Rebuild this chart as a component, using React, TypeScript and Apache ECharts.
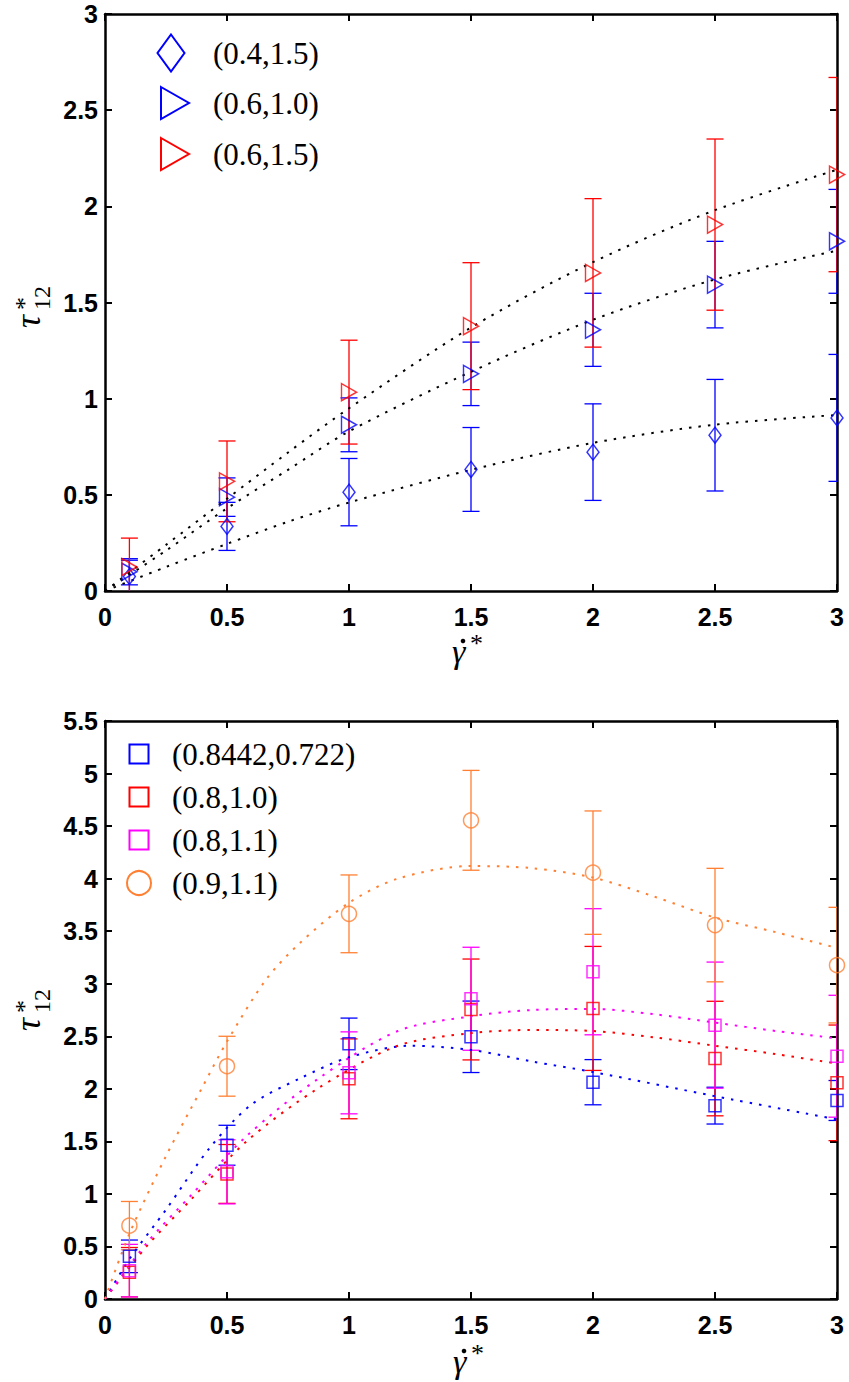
import React, { useEffect, useRef } from "react";
import * as echarts from "echarts";

// ---------- data ----------
const shearRates = [0.1, 0.5, 1, 1.5, 2, 2.5, 3];

// top panel
const topNames = ["(0.4,1.5)", "(0.6,1.0)", "(0.6,1.5)"];
const topMeanA = [0.075, 0.336, 0.514, 0.632, 0.722, 0.81, 0.9];
const topErrA = [0.085, 0.125, 0.175, 0.218, 0.251, 0.29, 0.33];
const topMeanB = [0.1, 0.488, 0.864, 1.129, 1.358, 1.593, 1.818];
const topErrB = [0.068, 0.1, 0.14, 0.165, 0.19, 0.225, 0.27];
const topMeanC = [0.125, 0.57, 1.034, 1.377, 1.654, 1.905, 2.165];
const topErrC = [0.15, 0.21, 0.27, 0.33, 0.386, 0.445, 0.505];

const topFitA = [[0, 0], [0.25, 0.125], [0.5, 0.245], [0.75, 0.36], [1, 0.46], [1.5, 0.63], [2, 0.77], [2.5, 0.865], [3, 0.915]];
const topFitB = [[0, 0], [0.25, 0.21], [0.5, 0.43], [0.75, 0.63], [1, 0.83], [1.5, 1.14], [2, 1.41], [2.5, 1.62], [3, 1.77]];
const topFitC = [[0, 0], [0.25, 0.24], [0.5, 0.48], [0.75, 0.72], [1, 0.95], [1.5, 1.37], [2, 1.71], [2.5, 1.98], [3, 2.19]];

// bottom panel
const botNames = ["(0.8442,0.722)", "(0.8,1.0)", "(0.8,1.1)", "(0.9,1.1)"];
const botMeanBlue = [0.406, 1.463, 2.428, 2.495, 2.063, 1.84, 1.889];
const botErrBlue = [0.155, 0.19, 0.245, 0.34, 0.215, 0.175, 0.19];
const botMeanRed = [0.255, 1.19, 2.095, 2.755, 2.765, 2.288, 2.057];
const botErrRed = [0.235, 0.28, 0.38, 0.48, 0.59, 0.545, 0.55];
const botMeanMag = [0.27, 1.21, 2.152, 2.857, 3.114, 2.606, 2.31];
const botErrMag = [0.25, 0.305, 0.39, 0.49, 0.6, 0.6, 0.58];
const botMeanOr = [0.698, 2.215, 3.665, 4.555, 4.057, 3.558, 3.177];
const botErrOr = [0.23, 0.285, 0.37, 0.475, 0.587, 0.54, 0.55];

const fitBlue = [[0, 0], [0.1, 0.38], [0.25, 0.85], [0.43, 1.44], [0.6, 1.85], [0.8, 2.1], [1, 2.3], [1.25, 2.41], [1.5, 2.37], [1.75, 2.26], [2, 2.16], [2.5, 1.93], [3, 1.71]];
const fitRed = [[0, 0], [0.17, 0.5], [0.35, 0.94], [0.58, 1.5], [0.87, 2.0], [1.2, 2.41], [1.5, 2.53], [1.75, 2.56], [2, 2.55], [2.25, 2.49], [2.5, 2.41], [2.75, 2.33], [3, 2.24]];
const fitMag = [[0, 0], [0.17, 0.53], [0.35, 0.98], [0.58, 1.55], [0.87, 2.09], [1.2, 2.55], [1.5, 2.69], [1.75, 2.75], [2, 2.76], [2.25, 2.71], [2.5, 2.63], [2.75, 2.55], [3, 2.48]];
const fitOr = [[0, 0], [0.1, 0.62], [0.25, 1.36], [0.4, 2.02], [0.5, 2.45], [0.66, 3.04], [0.8, 3.39], [1, 3.77], [1.2, 4.0], [1.5, 4.12], [1.75, 4.1], [2, 4.01], [2.25, 3.83], [2.5, 3.63], [2.75, 3.49], [3, 3.34]];

// ---------- styles ----------
const BLUE = "#0000ff";
const RED = "#ff0000";
const MAG = "#ff00ff";
const ORANGE = "#ff8033";
const TRI = "path://M0,0L10,5.5L0,11Z";

const errRows = (means: number[], errs: number[]) =>
  shearRates.map((x, i) => [x, means[i] - errs[i], means[i] + errs[i]]);
const pts = (means: number[]) => shearRates.map((x, i) => [x, means[i]]);

const errSeries = (name: string, means: number[], errs: number[], color: string, axis: number) => ({
  name,
  type: "custom",
  xAxisIndex: axis,
  yAxisIndex: axis,
  clip: true,
  z: 2,
  data: errRows(means, errs),
  encode: { x: 0, y: [1, 2] },
  renderItem: (_p: any, api: any) => {
    const x = api.value(0);
    const a = api.coord([x, api.value(1)]);
    const b = api.coord([x, api.value(2)]);
    const h = 8.5;
    const style = { stroke: color, lineWidth: 1.3, fill: "none" };
    return {
      type: "group",
      children: [
        { type: "line", shape: { x1: a[0], y1: a[1], x2: b[0], y2: b[1] }, style },
        { type: "line", shape: { x1: a[0] - h, y1: a[1], x2: a[0] + h, y2: a[1] }, style },
        { type: "line", shape: { x1: b[0] - h, y1: b[1], x2: b[0] + h, y2: b[1] }, style },
      ],
    };
  },
});

const markSeries = (name: string, means: number[], color: string, symbol: string, size: any, axis: number) => ({
  name,
  type: "scatter",
  xAxisIndex: axis,
  yAxisIndex: axis,
  clip: false,
  z: 4,
  symbol,
  symbolSize: size,
  data: pts(means),
  itemStyle: { color: "rgba(0,0,0,0)", borderColor: color, borderWidth: 1.5 },
});

const fitSeries = (name: string, data: number[][], color: string, axis: number) => ({
  name,
  type: "line",
  xAxisIndex: axis,
  yAxisIndex: axis,
  smooth: 0.3,
  symbol: "none",
  z: 3,
  data,
  lineStyle: { color, width: 2, type: [2.5, 7] },
});

const tickFont = { fontFamily: "Liberation Sans", fontWeight: "bold" as const, fontSize: 25, color: "#000" };
const lineBlack = { color: "#000", width: 2.5 };

const xAx = (grid: number, pos: "bottom" | "top", labels: boolean) => ({
  type: "value",
  gridIndex: grid,
  position: pos,
  min: 0,
  max: 3,
  interval: 0.5,
  axisLine: { show: true, onZero: false, lineStyle: lineBlack },
  axisTick: { show: true, inside: true, length: 7, lineStyle: { color: "#000", width: 2 } },
  axisLabel: { show: labels, margin: 13, ...tickFont },
  splitLine: { show: false },
});
const yAx = (grid: number, pos: "left" | "right", max: number, labels: boolean) => ({
  type: "value",
  gridIndex: grid,
  position: pos,
  min: 0,
  max,
  interval: 0.5,
  axisLine: { show: true, onZero: false, lineStyle: lineBlack },
  axisTick: { show: true, inside: true, length: 7, lineStyle: { color: "#000", width: 2 } },
  axisLabel: { show: labels, margin: 7, ...tickFont },
  splitLine: { show: false },
});

const serif = "Liberation Serif";
const legendText = (x: number, y: number, text: string) => ({
  type: "text",
  x,
  y,
  style: { text, fontFamily: serif, fontSize: 31, fill: "#000", align: "left", verticalAlign: "middle" },
});

const yName = (x: number, y: number) => ({
  type: "group",
  x,
  y,
  rotation: Math.PI / 2,
  children: [
    { type: "text", x: 0, y: -12, style: { text: "τ", fontFamily: serif, fontStyle: "italic", fontSize: 36, fill: "#000", align: "left", verticalAlign: "middle" } },
    { type: "text", x: 18, y: -16, style: { text: "*", fontFamily: serif, fontSize: 26, fill: "#000", align: "left", verticalAlign: "middle" } },
    { type: "text", x: 18, y: 2, style: { text: "12", fontFamily: serif, fontSize: 24, fill: "#000", align: "left", verticalAlign: "middle" } },
  ],
});

const xName = (x: number, baseline: number) => ({
  type: "group",
  x,
  y: baseline,
  children: [
    { type: "text", x: 0, y: -11.5, style: { text: "γ", fontFamily: serif, fontStyle: "italic", fontSize: 34, fill: "#000", align: "left", verticalAlign: "middle" } },
    { type: "circle", shape: { cx: 11, cy: -22, r: 2.3 }, style: { fill: "#000" } },
    { type: "text", x: 18, y: -20, style: { text: "*", fontFamily: serif, fontSize: 26, fill: "#000", align: "left", verticalAlign: "middle" } },
  ],
});

export default function App() {
  const ref = useRef<HTMLDivElement>(null);
  useEffect(() => {
    if (!ref.current) return;
    const chart = echarts.init(ref.current, undefined, { renderer: "svg" });
    const lw = 2;
    chart.setOption({
      animation: false,
      backgroundColor: "#fff",
      grid: [
        { left: 105, top: 14, width: 732, height: 577 },
        { left: 105, top: 721, width: 732, height: 578 },
      ],
      xAxis: [xAx(0, "bottom", true), xAx(0, "top", false), xAx(1, "bottom", true), xAx(1, "top", false)],
      yAxis: [yAx(0, "left", 3, true), yAx(0, "right", 3, false), yAx(1, "left", 5.5, true), yAx(1, "right", 5.5, false)],
      series: [
        errSeries("errA", topMeanA, topErrA, BLUE, 0),
        errSeries("errB", topMeanB, topErrB, BLUE, 0),
        errSeries("errC", topMeanC, topErrC, RED, 0),
        fitSeries("fitA", topFitA, "#000", 0),
        fitSeries("fitB", topFitB, "#000", 0),
        fitSeries("fitC", topFitC, "#000", 0),
        markSeries(topNames[0], topMeanA, BLUE, "diamond", [12, 16], 0),
        markSeries(topNames[1], topMeanB, BLUE, TRI, [15, 17], 0),
        markSeries(topNames[2], topMeanC, RED, TRI, [15, 17], 0),

        errSeries("errBlue", botMeanBlue, botErrBlue, BLUE, 2),
        errSeries("errRed", botMeanRed, botErrRed, RED, 2),
        errSeries("errMag", botMeanMag, botErrMag, MAG, 2),
        errSeries("errOr", botMeanOr, botErrOr, ORANGE, 2),
        fitSeries("fitBlue", fitBlue, BLUE, 2),
        fitSeries("fitRed", fitRed, RED, 2),
        fitSeries("fitMag", fitMag, MAG, 2),
        fitSeries("fitOr", fitOr, ORANGE, 2),
        markSeries(botNames[0], botMeanBlue, BLUE, "rect", 12, 2),
        markSeries(botNames[1], botMeanRed, RED, "rect", 12, 2),
        markSeries(botNames[2], botMeanMag, MAG, "rect", 12, 2),
        markSeries(botNames[3], botMeanOr, ORANGE, "circle", 15, 2),
      ],
      graphic: [
        // top legend
        { type: "polygon", shape: { points: [[171, 34.5], [184.5, 53], [171, 71.5], [157.5, 53]] }, style: { fill: "none", stroke: BLUE, lineWidth: lw } },
        { type: "polygon", shape: { points: [[161, 87], [189, 103], [161, 119]] }, style: { fill: "none", stroke: BLUE, lineWidth: lw } },
        { type: "polygon", shape: { points: [[161, 138], [189, 154], [161, 170]] }, style: { fill: "none", stroke: RED, lineWidth: lw } },
        legendText(213, 53, topNames[0]),
        legendText(213, 103, topNames[1]),
        legendText(213, 154, topNames[2]),
        // bottom legend
        { type: "rect", shape: { x: 129.5, y: 744.5, width: 19, height: 19 }, style: { fill: "none", stroke: BLUE, lineWidth: lw } },
        { type: "rect", shape: { x: 129.5, y: 787.5, width: 19, height: 19 }, style: { fill: "none", stroke: RED, lineWidth: lw } },
        { type: "rect", shape: { x: 129.5, y: 830.5, width: 19, height: 19 }, style: { fill: "none", stroke: MAG, lineWidth: lw } },
        { type: "circle", shape: { cx: 139, cy: 883, r: 12 }, style: { fill: "none", stroke: ORANGE, lineWidth: lw } },
        legendText(172, 754, botNames[0]),
        legendText(172, 797, botNames[1]),
        legendText(172, 840, botNames[2]),
        legendText(172, 883, botNames[3]),
        // axis names
        yName(40, 328),
        yName(40, 1031),
        xName(452, 663),
        xName(453, 1373),
      ],
    });
    return () => chart.dispose();
  }, []);
  return (
    <div
      ref={ref}
      style={{ position: "absolute", left: 0, top: 0, width: 849, height: 1382, background: "#fff" }}
    />
  );
}
